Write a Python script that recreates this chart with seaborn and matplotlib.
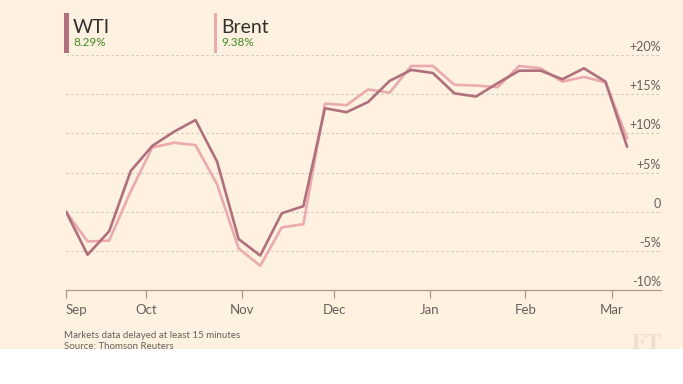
import matplotlib
matplotlib.use('Agg')
import matplotlib.pyplot as plt
import matplotlib.dates as mdates
import matplotlib.transforms as mtransforms
from matplotlib.patches import Rectangle
import seaborn as sns
import pandas as pd

# weekly closes, % change since the first week
dates = pd.date_range('2016-09-05', periods=27, freq='7D')
wti = [0.0, -5.5, -2.5, 5.2, 8.4, 10.2, 11.7, 6.4, -3.5, -5.6, -0.2, 0.7,
       13.2, 12.7, 14.0, 16.7, 18.1, 17.7, 15.1, 14.7, 16.4, 18.0, 18.0,
       16.9, 18.3, 16.6, 8.29]
brent = [0.0, -3.8, -3.7, 2.6, 8.2, 8.8, 8.5, 3.5, -4.7, -6.9, -2.0, -1.6,
         13.8, 13.6, 15.6, 15.2, 18.6, 18.6, 16.2, 16.1, 15.9, 18.6, 18.3,
         16.6, 17.2, 16.5, 9.38]
series_names = ['WTI', 'Brent']
latest_labels = ['8.29%', '9.38%']
y_ticks = [20, 15, 10, 5, 0, -5, -10]
y_labels = ['+20%', '+15%', '+10%', '+5%', '0', '-5%', '-10%']
month_ticks = ['2016-09-05', '2016-10-01', '2016-11-01', '2016-12-01',
               '2017-01-01', '2017-02-01', '2017-03-01']
month_labels = ['Sep', 'Oct', 'Nov', 'Dec', 'Jan', 'Feb', 'Mar']
footnote = 'Markets data delayed at least 15 minutes'
source = 'Source: Thomson Reuters'

bg = '#fff1e0'
text_grey = '#66605c'
colors = {'WTI': '#b06f7d', 'Brent': '#eaaaae'}

sns.set_style('white')
plt.rcParams['font.family'] = ['Lato', 'DejaVu Sans']

df = pd.DataFrame({
    'date': list(dates) * 2,
    'change': wti + brent,
    'series': ['WTI'] * len(wti) + ['Brent'] * len(brent),
})

W, H = 683, 384
fig = plt.figure(figsize=(W / 100, H / 100), dpi=100)
fig.patch.set_facecolor('white')
fig.patches.append(Rectangle((0, 1 - 349 / H), 1, 349 / H, transform=fig.transFigure,
                             facecolor=bg, edgecolor='none', zorder=-10))

ax = fig.add_axes([66 / W, 1 - 290 / H, 595 / W, 235 / H])
ax.set_facecolor('none')

sns.lineplot(data=df, x='date', y='change', hue='series', hue_order=['Brent', 'WTI'],
             palette=colors, linewidth=1.9, legend=False, ax=ax)

ax.set_ylim(-10, 20)
ax.set_xlim(dates[0], pd.Timestamp('2017-03-17'))
ax.set_xlabel('')
ax.set_ylabel('')

# dotted gridlines
for v in y_ticks[:-1]:
    ax.axhline(v, color='#cfc4b8', linewidth=0.8, linestyle=(0, (2, 2.5)), zorder=0)

# y labels sit on top of their gridline at the right edge
offset = mtransforms.ScaledTranslation(0, 2 / 100, fig.dpi_scale_trans)
trans = mtransforms.blended_transform_factory(ax.transAxes, ax.transData) + offset
for v, lab in zip(y_ticks, y_labels):
    ax.text(1.0, v, lab, transform=trans, ha='right', va='bottom',
            fontsize=9, color=text_grey)
ax.set_yticks([])

for s in ['top', 'right', 'left']:
    ax.spines[s].set_visible(False)
ax.spines['bottom'].set_color('#a39b93')
ax.spines['bottom'].set_linewidth(0.9)

ax.set_xticks(pd.to_datetime(month_ticks))
ax.set_xticklabels(month_labels)
ax.tick_params(axis='x', direction='out', length=6, width=0.9, color='#a39b93',
               labelsize=9.5, labelcolor=text_grey, pad=4, bottom=True)
ax.get_xticklabels()[0].set_horizontalalignment('left')

# legend: colour bar, name, latest value
legend_x = [64, 214]
bar_w = [5, 3]
for name, lab, x0, bw in zip(series_names, latest_labels, legend_x, bar_w):
    fig.patches.append(Rectangle((x0 / W, 1 - 53 / H), bw / W, 40 / H,
                                 transform=fig.transFigure, facecolor=colors[name],
                                 edgecolor='none'))
    fig.text((x0 + bw + 4) / W, 1 - 33 / H, name, fontsize=14, color='#33302e',
             ha='left', va='baseline')
    fig.text((x0 + bw + 4) / W, 1 - 46.5 / H, lab, fontsize=8.5, color='#3f8a26',
             ha='left', va='baseline')

fig.text(64 / W, 1 - 338 / H, footnote, fontsize=7, color=text_grey, va='baseline')
fig.text(64 / W, 1 - 349 / H, source, fontsize=7, color=text_grey, va='baseline')
fig.text(662 / W, 1 - 349 / H, 'FT', fontsize=17, color='#ecdfcf', ha='right',
         va='baseline', family=['Liberation Serif', 'DejaVu Serif'], fontweight='bold')

fig.savefig('out.png', dpi=100, facecolor=fig.get_facecolor())
